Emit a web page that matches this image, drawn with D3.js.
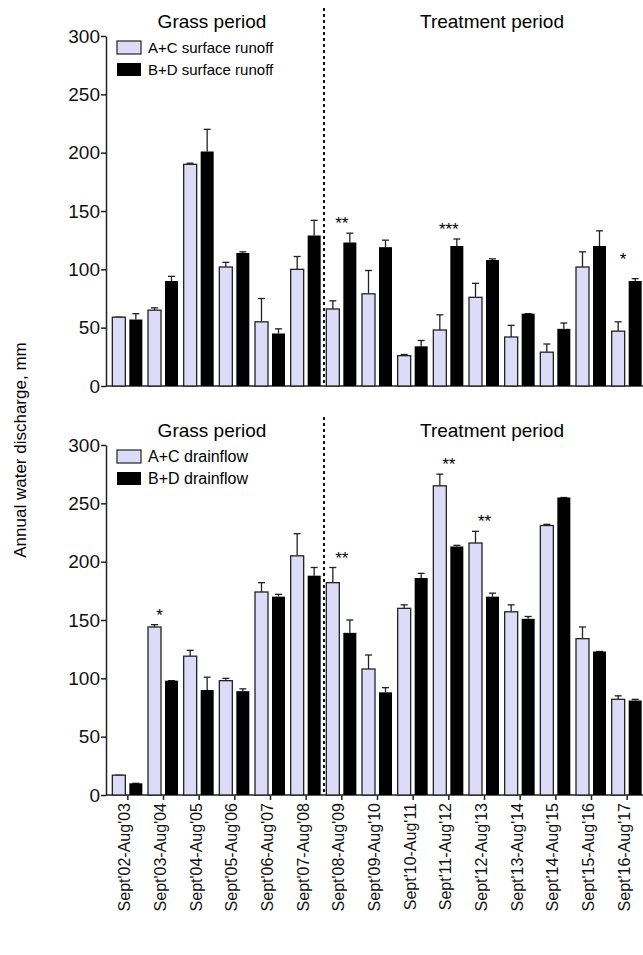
<!DOCTYPE html><html><head><meta charset="utf-8"><script src="https://cdn.jsdelivr.net/npm/d3@7"></script>
<style>body{margin:0;background:#fff}text{font-family:Arial,"Liberation Sans",sans-serif}</style></head><body><svg id="c" width="643" height="955"></svg><script>
const categories=["Sept'02-Aug'03","Sept'03-Aug'04","Sept'04-Aug'05","Sept'05-Aug'06","Sept'06-Aug'07","Sept'07-Aug'08","Sept'08-Aug'09","Sept'09-Aug'10","Sept'10-Aug'11","Sept'11-Aug'12","Sept'12-Aug'13","Sept'13-Aug'14","Sept'14-Aug'15","Sept'15-Aug'16","Sept'16-Aug'17"];
const runoffAC=[59,65,190,102,55,100,66,79,26,48,76,42,29,102,47];
const runoffACerr=[0,2,1,4,20,11,7,20,1,13,12,10,7,13,8];
const runoffBD=[57,90,201,114,45,129,123,119,34,120,108,62,49,120,90];
const runoffBDerr=[5,4,19,1,4,13,8,6,5,6,1,0,5,13,2];
const drainAC=[17,144,119,98,174,205,182,108,160,265,216,157,231,134,82];
const drainACerr=[0,2,5,2,8,19,13,12,3,10,10,6,1,10,3];
const drainBD=[10,98,90,89,170,188,139,88,186,213,170,151,255,123,81];
const drainBDerr=[0,0,11,2,2,7,11,4,4,1,3,2,0,0,1];
const runoffStars=[[6,"**"],[9,"***"],[14,"*"]];
const drainStars=[[1,"*"],[6,"**"],[9,"**"],[10,"**"]];
const yTicks=[0,50,100,150,200,250,300];
const svg=d3.select("#c");
const x=d3.scaleBand().domain(categories).range([110,645]).paddingInner(0).paddingOuter(0);
function panel(top,A,Ae,B,Be,stars,labA,labB){
  const y=d3.scaleLinear().domain([0,300]).range([top+350,top]);
  const g=svg.append("g");
  const ax=g.append("g").attr("transform","translate(106,0)").call(d3.axisLeft(y).tickValues(yTicks).tickSize(5).tickSizeOuter(0));
  ax.selectAll("text").style("font-size","19px").attr("fill","#111").attr("dx","2");
  ax.select(".domain").attr("stroke","#222").attr("stroke-width",1.5);
  ax.selectAll(".tick line").attr("stroke","#222").attr("stroke-width",1.5);
  g.append("line").attr("x1",106).attr("x2",643).attr("y1",y(0)).attr("y2",y(0)).attr("stroke","#222").attr("stroke-width",1.5);
  const bw=13;
  const cx=d=>x(d)+x.bandwidth()/2;
  const data=categories.map((c,i)=>({c,a:A[i],ae:Ae[i],b:B[i],be:Be[i]}));
  const eb=(sel,xf,v,e)=>{sel.append("line").attr("x1",xf).attr("x2",xf).attr("y1",d=>y(v(d))).attr("y2",d=>y(v(d)+e(d))).attr("stroke","#222").attr("stroke-width",1.3);
    sel.append("line").attr("x1",d=>xf(d)-3.5).attr("x2",d=>xf(d)+3.5).attr("y1",d=>y(v(d)+e(d))).attr("y2",d=>y(v(d)+e(d))).attr("stroke","#222").attr("stroke-width",1.3);};
  const gg=g.selectAll(".grp").data(data).join("g");
  eb(gg,d=>cx(d.c)-9,d=>d.a,d=>d.ae);
  eb(gg,d=>cx(d.c)+8,d=>d.b,d=>d.be);
  gg.append("rect").attr("x",d=>cx(d.c)-15.5).attr("width",bw).attr("y",d=>y(d.a)).attr("height",d=>y(0)-y(d.a)).attr("fill","#dcdcf8").attr("stroke","#222").attr("stroke-width",1.3);
  gg.append("rect").attr("x",d=>cx(d.c)+1.5).attr("width",bw).attr("y",d=>y(d.b)).attr("height",d=>y(0)-y(d.b)).attr("fill","#000");
  stars.forEach(([i,s])=>{const m=Math.max(A[i]+Ae[i],B[i]+Be[i]);
    g.append("text").attr("x",cx(categories[i])-(s.length>1?0:4)).attr("y",y(m)+(i===14?-14:-4)).attr("text-anchor","middle").style("font-size","17px").text(s);});
  const dx=(x(categories[5])+x(categories[6])+x.bandwidth())/2;
  g.append("line").attr("x1",dx).attr("x2",dx).attr("y1",top-28).attr("y2",y(0)).attr("stroke","#111").attr("stroke-width",2).attr("stroke-dasharray","3,3");
  g.append("text").attr("x",212).attr("y",top-8).attr("text-anchor","middle").style("font-size","19px").text("Grass period");
  g.append("text").attr("x",492).attr("y",top-8).attr("text-anchor","middle").style("font-size","19px").text("Treatment period");
  [[labA,"#dcdcf8",true],[labB,"#000",false]].forEach(([t,f,s],k)=>{
    const ly=top+5+k*22;
    g.append("rect").attr("x",117).attr("y",ly).attr("width",24).attr("height",13).attr("fill",f).attr("stroke",s?"#222":"none").attr("stroke-width",1.2);
    g.append("text").attr("x",148).attr("y",ly+12).style("font-size",labA.length>16?"15px":"16px").text(t);});
  return y;
}
panel(36,runoffAC,runoffACerr,runoffBD,runoffBDerr,runoffStars,"A+C surface runoff","B+D surface runoff");
const yb=panel(445,drainAC,drainACerr,drainBD,drainBDerr,drainStars,"A+C drainflow","B+D drainflow");
const xa=svg.append("g").attr("transform",`translate(0,${yb(0)})`).call(d3.axisBottom(x).tickSize(5).tickSizeOuter(0));
xa.select(".domain").remove();
xa.selectAll(".tick line").attr("stroke","#222").attr("stroke-width",1.5);
xa.selectAll("text").style("font-size","16px").attr("fill","#111").attr("transform","rotate(-90)").attr("text-anchor","end").attr("dx","-8").attr("dy","-0.1em").attr("x",0).attr("y",0).attr("dominant-baseline","middle");
svg.append("text").attr("transform","translate(26,450) rotate(-90)").attr("text-anchor","middle").style("font-size","17px").text("Annual water discharge, mm");
</script></body></html>
